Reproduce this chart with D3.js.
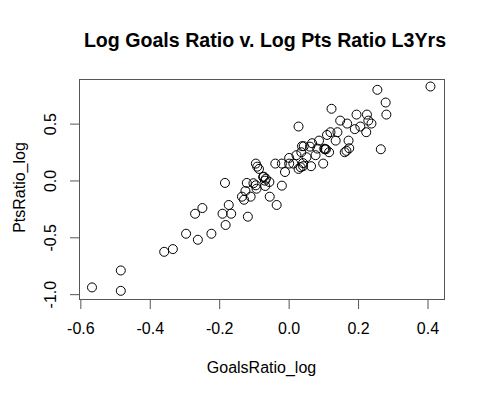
<!DOCTYPE html>
<html>
<head>
<meta charset="utf-8">
<script src="https://cdn.jsdelivr.net/npm/d3@7"></script>
<style>
  body { margin: 0; background: #fff; }
  text { font-family: "Liberation Sans", Arial, sans-serif; fill: #000; }
</style>
</head>
<body>
<svg id="main" width="485" height="397"></svg>
<script>
"use strict";

//data
const goalsRatioLog = [
  -0.565, -0.482, -0.482, -0.357, -0.332, -0.294, -0.260, -0.221, -0.268, -0.247,
  -0.189, -0.164, -0.171, -0.180, -0.182, -0.133, -0.127, -0.123, -0.119, -0.116,
  0.410, 0.257, 0.281, 0.283, 0.125, 0.030, 0.197, 0.227, 0.150, 0.170,
  0.231, 0.240, 0.208, 0.192, 0.225, 0.142, 0.122, 0.112, 0.137, 0.174,
  0.089, 0.069, 0.040, 0.045, 0.063, 0.084, 0.106, 0.109, 0.118, 0.168,
  0.163, 0.267, 0.038, 0.079, 0.053, 0.024, 0.003, 0.015, -0.037, -0.018,
  0.003, 0.101, 0.066, 0.043, 0.030, -0.009, -0.093, -0.089, -0.084, -0.072,
  -0.064, -0.054, -0.100, -0.093, -0.091, -0.066, -0.018, -0.108, -0.053, -0.033,
  0.104, -0.070, -0.067, 0.043, 0.036, 0.176
];
const ptsRatioLog = [
  -0.945, -0.975, -0.796, -0.632, -0.608, -0.473, -0.526, -0.473, -0.297, -0.247,
  -0.297, -0.297, -0.220, -0.396, -0.026, -0.147, -0.174, -0.097, -0.026, -0.323,
  0.822, 0.793, 0.681, 0.575, 0.626, 0.470, 0.575, 0.575, 0.522, 0.496,
  0.522, 0.496, 0.470, 0.447, 0.420, 0.420, 0.420, 0.396, 0.346, 0.346,
  0.346, 0.323, 0.297, 0.297, 0.293, 0.276, 0.270, 0.270, 0.244, 0.256,
  0.244, 0.270, 0.244, 0.218, 0.200, 0.218, 0.194, 0.144, 0.144, 0.144,
  0.144, 0.144, 0.121, 0.121, 0.097, 0.070, 0.144, 0.117, 0.097, 0.026,
  0.011, -0.018, -0.029, -0.047, -0.077, -0.053, -0.050, -0.147, -0.147, -0.220,
  0.275, 0.029, -0.006, 0.148, 0.112, 0.279
];
const xTicks = [-0.6, -0.4, -0.2, 0.0, 0.2, 0.4];
const xTickLabels = ["-0.6", "-0.4", "-0.2", "0.0", "0.2", "0.4"];
const yTicks = [-1.0, -0.5, 0.0, 0.5];
const yTickLabels = ["-1.0", "-0.5", "0.0", "0.5"];
const titleText = "Log Goals Ratio v. Log Pts Ratio L3Yrs";
const xLabel = "GoalsRatio_log";
const yLabel = "PtsRatio_log";

//layout
const plot = { left: 79, right: 444, top: 79, bottom: 299 };
const midX = (plot.left + plot.right) / 2;

const mySvg = d3.select("#main");
mySvg.append("rect")
  .attr('width', 485).attr('height', 397).attr('fill', '#fff');

const x = d3.scaleLinear().domain([-0.6024, 0.449]).range([plot.left, plot.right]);
const y = d3.scaleLinear().domain([-1.047, 0.888]).range([plot.bottom, plot.top]);

//points
mySvg.append("g")
  .selectAll("circle")
  .data(goalsRatioLog.map((d, i) => ({ gx: d, py: ptsRatioLog[i] })))
  .enter().append("circle")
  .attr('cx', (d) => x(d.gx))
  .attr('cy', (d) => y(d.py))
  .attr('r', 4.5)
  .attr('fill', 'none')
  .attr('stroke', '#000')
  .attr('stroke-width', 1);

//box
mySvg.append("rect")
  .attr('x', plot.left + 0.5)
  .attr('y', plot.top + 0.5)
  .attr('width', plot.right - plot.left)
  .attr('height', plot.bottom - plot.top)
  .attr('fill', 'none')
  .attr('stroke', '#555')
  .attr('stroke-width', 1);

//x axis
const xAxis = mySvg.append("g")
  .attr('transform', `translate(0.5,${plot.bottom + 0.5})`)
  .call(d3.axisBottom(x).tickValues(xTicks).tickSize(9.5)
    .tickFormat((d, i) => xTickLabels[i]));
xAxis.select(".domain").remove();
xAxis.selectAll(".tick line").attr('stroke', '#555');
xAxis.selectAll(".tick text")
  .attr('y', 34.5).attr('dy', 0)
  .style('font-size', '16px')
  .style('font-family', '"Liberation Sans", Arial, sans-serif');

//y axis
const yAxis = mySvg.append("g")
  .attr('transform', `translate(${plot.left + 0.5},0.5)`)
  .call(d3.axisLeft(y).tickValues(yTicks).tickSize(9.5)
    .tickFormat((d, i) => yTickLabels[i]));
yAxis.select(".domain").remove();
yAxis.selectAll(".tick line").attr('stroke', '#555');
yAxis.selectAll(".tick text")
  .attr('x', 0).attr('y', 0).attr('dy', 0)
  .attr('text-anchor', 'middle')
  .attr('transform', 'translate(-24,0) rotate(-90)')
  .style('font-size', '16px')
  .style('font-family', '"Liberation Sans", Arial, sans-serif');

//titles
mySvg.append("text")
  .attr('x', midX + 3.5).attr('y', 46.7)
  .attr('text-anchor', 'middle')
  .style('font-size', '19.6px')
  .style('font-weight', 'bold')
  .text(titleText);

mySvg.append("text")
  .attr('x', midX).attr('y', 373)
  .attr('text-anchor', 'middle')
  .style('font-size', '16px')
  .text(xLabel);

mySvg.append("text")
  .attr('transform', `translate(25,187.5) rotate(-90)`)
  .attr('text-anchor', 'middle')
  .style('font-size', '16px')
  .text(yLabel);
</script>
</body>
</html>
